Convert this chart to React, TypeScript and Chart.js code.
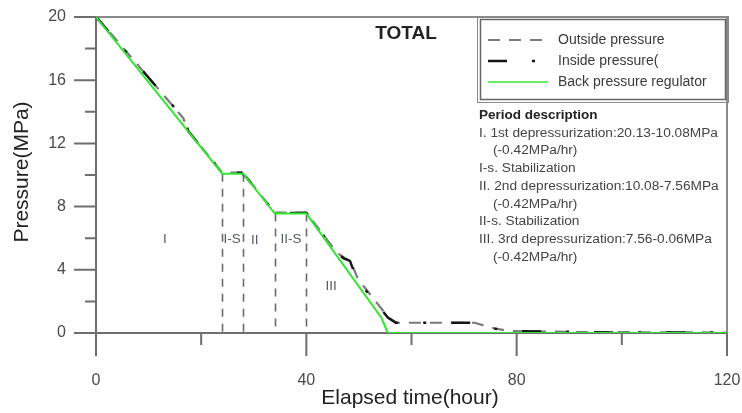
import { useEffect, useRef } from 'react';
import { Chart, registerables } from 'chart.js';
Chart.register(...registerables);

// ---- data (hours, MPa) ----
const regulatorHours = [0, 24, 28, 34, 40, 54.3, 55.5, 120];
const regulatorMPa = [20, 10.08, 10.08, 7.56, 7.56, 0.95, 0, 0];

const insideHours = [0, 16.8, 17.6, 24, 27.6, 28.6, 34, 40, 45.8, 47.2, 48.3, 49.6, 55.5, 57, 72, 75.5, 78, 93, 96, 120];
const insideMPa = [20, 13.55, 12.75, 10.15, 10.15, 9.85, 7.6, 7.6, 5.06, 4.7, 4.56, 3.4, 0.98, 0.65, 0.65, 0.3, 0.12, 0.08, 0.03, 0.03];

const outsideHours = [0, 16.6, 17.5, 24, 27.8, 28.8, 34, 40, 45.8, 47.4, 48.4, 49.8, 55.7, 57.2, 72, 75.2, 78.5, 92, 120];
const outsideMPa = [20.05, 13.6, 12.8, 10.15, 10.15, 9.8, 7.62, 7.62, 5.1, 4.72, 4.58, 3.42, 0.95, 0.65, 0.65, 0.33, 0.12, 0.06, 0.03];

const xMajorTicks = [0, 40, 80, 120];
const xMinorTicks = [20, 60, 100];
const yMajorTicks = [0, 4, 8, 12, 16, 20];
const yMinorTicks = [2, 6, 10, 14, 18];

const periodLineHours = [24, 28, 34, 40];
const periodLineTopMPa = [10.08, 10.08, 7.56, 7.56];

const periodLabels = ['I', 'I-S', 'II', 'II-S', 'III'];
const periodLabelHours = [13.1, 25.9, 30.2, 37.1, 44.7];
const periodLabelMPa = [5.95, 5.9, 5.85, 5.9, 2.97];

const legendLabels = ['Outside pressure', 'Inside pressure(', 'Back pressure regulator'];
const descriptionTitle = 'Period description';
const descriptionLines = [
  'I. 1st depressurization:20.13-10.08MPa',
  '   (-0.42MPa/hr)',
  'I-s. Stabilization',
  'II. 2nd depressurization:10.08-7.56MPa',
  '   (-0.42MPa/hr)',
  'II-s. Stabilization',
  'III. 3rd depressurization:7.56-0.06MPa',
  '   (-0.42MPa/hr)',
];

const FONT = "'Liberation Sans', Arial, sans-serif";
const GREEN = '#33e633';
const BLACK = '#141414';
const GRAY = '#7a7a7a';
const outsideDash = [12, 9];
const insideDash = [19, 25, 3, 25];

const toPts = (xs: number[], ys: number[]) => xs.map((x, i) => ({ x, y: ys[i] }));

const decor = {
  id: 'decor',
  beforeDatasetsDraw(chart: any) {
    const { ctx, chartArea: a, scales } = chart;
    const x = scales.x, y = scales.y;
    ctx.save();
    // period dashed lines
    ctx.strokeStyle = '#6a6a6a';
    ctx.lineWidth = 1.6;
    ctx.setLineDash([8, 7]);
    periodLineHours.forEach((h, i) => {
      const px = Math.round(x.getPixelForValue(h)) + 0.5;
      ctx.beginPath();
      ctx.moveTo(px, y.getPixelForValue(periodLineTopMPa[i]));
      ctx.lineTo(px, y.getPixelForValue(0));
      ctx.stroke();
    });
    ctx.setLineDash([]);
    // frame
    ctx.strokeStyle = '#8a8a8a';
    ctx.lineWidth = 2;
    ctx.beginPath();
    ctx.moveTo(a.left, a.top);
    ctx.lineTo(a.right, a.top);
    ctx.lineTo(a.right, a.bottom);
    ctx.stroke();
    // axes
    ctx.strokeStyle = '#6e6e6e';
    ctx.beginPath();
    ctx.moveTo(a.left, a.top);
    ctx.lineTo(a.left, a.bottom);
    ctx.lineTo(a.right, a.bottom);
    ctx.stroke();
    // ticks
    ctx.beginPath();
    xMajorTicks.forEach((t) => {
      const px = x.getPixelForValue(t);
      ctx.moveTo(px, a.bottom);
      ctx.lineTo(px, a.bottom + 23);
    });
    xMinorTicks.forEach((t) => {
      const px = x.getPixelForValue(t);
      ctx.moveTo(px, a.bottom);
      ctx.lineTo(px, a.bottom + 12);
    });
    yMajorTicks.forEach((t) => {
      const py = y.getPixelForValue(t);
      ctx.moveTo(a.left - 22, py);
      ctx.lineTo(a.left, py);
    });
    yMinorTicks.forEach((t) => {
      const py = y.getPixelForValue(t);
      ctx.moveTo(a.left - 11, py);
      ctx.lineTo(a.left, py);
    });
    ctx.stroke();
    // tick labels
    ctx.fillStyle = '#4a4a4a';
    ctx.font = `16px ${FONT}`;
    ctx.textBaseline = 'middle';
    ctx.textAlign = 'center';
    xMajorTicks.forEach((t) => ctx.fillText(String(t), x.getPixelForValue(t), 381));
    ctx.textAlign = 'right';
    yMajorTicks.forEach((t) => ctx.fillText(String(t), 66, y.getPixelForValue(t)));
    // period labels
    ctx.fillStyle = '#555a68';
    ctx.font = `13.5px ${FONT}`;
    ctx.textAlign = 'center';
    periodLabels.forEach((l, i) =>
      ctx.fillText(l, x.getPixelForValue(periodLabelHours[i]), y.getPixelForValue(periodLabelMPa[i]))
    );
    ctx.restore();
  },
  afterDraw(chart: any) {
    const { ctx } = chart;
    ctx.save();
    // axis titles
    ctx.fillStyle = '#222';
    ctx.font = `21px ${FONT}`;
    ctx.textAlign = 'center';
    ctx.textBaseline = 'middle';
    ctx.fillText('Elapsed time(hour)', 410, 398);
    ctx.save();
    ctx.translate(22, 172);
    ctx.rotate(-Math.PI / 2);
    ctx.fillText('Pressure(MPa)', 0, 0);
    ctx.restore();
    // title
    ctx.font = `bold 19px ${FONT}`;
    ctx.fillText('TOTAL', 406, 34);
    // legend box
    ctx.strokeStyle = '#8a8a8a';
    ctx.lineWidth = 1;
    ctx.strokeRect(477.5, 16.5, 251, 86);
    ctx.strokeStyle = '#666';
    ctx.lineWidth = 1.5;
    ctx.strokeRect(480.5, 19.5, 245, 80);
    const rows = [40, 61, 82];
    const styles = [
      { c: GRAY, d: outsideDash, w: 2.2 },
      { c: BLACK, d: insideDash, w: 2.4 },
      { c: GREEN, d: [], w: 1.5 },
    ];
    rows.forEach((ry, i) => {
      ctx.strokeStyle = styles[i].c;
      ctx.lineWidth = styles[i].w;
      ctx.setLineDash(styles[i].d);
      ctx.beginPath();
      ctx.moveTo(488, ry);
      ctx.lineTo(548, ry);
      ctx.stroke();
    });
    ctx.setLineDash([]);
    ctx.fillStyle = '#3a3a3a';
    ctx.font = `14px ${FONT}`;
    ctx.textAlign = 'left';
    legendLabels.forEach((l, i) => ctx.fillText(l, 558, rows[i]));
    // description
    ctx.fillStyle = '#222';
    ctx.font = `bold 13.5px ${FONT}`;
    ctx.fillText(descriptionTitle, 479, 115);
    ctx.fillStyle = '#444';
    ctx.font = `13.7px ${FONT}`;
    descriptionLines.forEach((l, i) => {
      const indent = l.startsWith('   ');
      ctx.fillText(l.trim(), indent ? 493 : 479, 133 + i * 17.7);
    });
    ctx.restore();
  },
};

export default function App() {
  const ref = useRef<HTMLCanvasElement>(null);
  useEffect(() => {
    document.body.style.margin = '0';
    const chart = new Chart(ref.current!, {
      type: 'line',
      data: {
        datasets: [
          {
            label: legendLabels[2],
            data: toPts(regulatorHours, regulatorMPa),
            borderColor: GREEN,
            borderWidth: 2,
            pointRadius: 0,
            tension: 0,
          },
          {
            label: legendLabels[1],
            data: toPts(insideHours, insideMPa),
            borderColor: BLACK,
            borderWidth: 2.4,
            borderDash: insideDash,
            pointRadius: 0,
            tension: 0,
          },
          {
            label: legendLabels[0],
            data: toPts(outsideHours, outsideMPa),
            borderColor: GRAY,
            borderWidth: 2.2,
            borderDash: outsideDash,
            pointRadius: 0,
            tension: 0,
          },
        ],
      },
      options: {
        responsive: false,
        animation: false,
        events: [],
        layout: { padding: { left: 0, right: 15, top: 17, bottom: 0 } },
        plugins: { legend: { display: false }, title: { display: false }, tooltip: { enabled: false } },
        scales: {
          x: {
            type: 'linear',
            min: 0,
            max: 120,
            ticks: { display: false },
            grid: { display: false },
            border: { display: false },
            afterFit: (s: any) => { s.height = 80; },
          },
          y: {
            type: 'linear',
            min: 0,
            max: 20,
            ticks: { display: false },
            grid: { display: false },
            border: { display: false },
            afterFit: (s: any) => { s.width = 96; },
          },
        },
      } as any,
      plugins: [decor],
    });
    return () => chart.destroy();
  }, []);
  return (
    <div style={{ position: 'absolute', left: 0, top: 0, width: 742, height: 413, background: '#fff' }}>
      <canvas ref={ref} width={742} height={413} style={{ display: 'block' }} />
    </div>
  );
}
